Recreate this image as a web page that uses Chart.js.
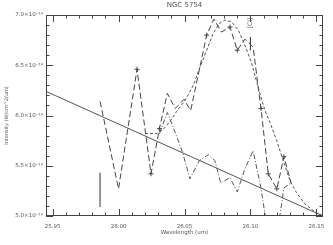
<!DOCTYPE html>
<html>
<head>
<meta charset="utf-8">
<script src="https://cdn.jsdelivr.net/npm/chart.js@4.4.1/dist/chart.umd.min.js"></script>
<style>
  html, body { margin: 0; padding: 0; background: #fff; }
  #wrap { width: 333px; height: 245px; }
</style>
</head>
<body>
<div id="wrap"><canvas id="spectrum"></canvas></div>
<script>
// wavelength in um, flux in units of 1e-19 W/cm^2/um
const title = 'NGC 5754';
const lineLabel = '[Cl]';

const dataWave = [25.986, 26.000, 26.014, 26.0246, 26.031, 26.037, 26.043, 26.0496, 26.0547, 26.0668,
                  26.0723, 26.078, 26.0845, 26.090, 26.0958, 26.102, 26.108, 26.1135, 26.120, 26.1254, 26.131];
const dataFlux = [6.14, 5.27, 6.46, 5.42, 5.87, 6.22, 6.07, 6.16, 6.05, 6.80,
                  6.96, 6.83, 6.88, 6.65, 6.76, 6.68, 6.07, 5.42, 5.27, 5.59, 5.32];

const fitWave = [26.020, 26.0289, 26.0337, 26.039, 26.044, 26.0504, 26.0567, 26.0617, 26.0668, 26.0718,
                 26.0769, 26.0807, 26.0858, 26.0908, 26.0958, 26.1009, 26.106, 26.111, 26.1148, 26.1199,
                 26.1249, 26.130, 26.135, 26.1413, 26.1489, 26.155];
const fitFlux = [5.82, 5.82, 5.86, 5.94, 6.04, 6.15, 6.30, 6.48, 6.65, 6.82,
                 6.92, 6.95, 6.93, 6.85, 6.70, 6.52, 6.27, 6.05, 5.93, 5.75,
                 5.55, 5.35, 5.23, 5.12, 5.04, 5.00];

const residWave = [26.031, 26.037, 26.043, 26.0486, 26.0541, 26.0612, 26.068, 26.0731, 26.0774, 26.0845,
                   26.090, 26.0958, 26.102, 26.108, 26.1135, 26.120, 26.1254, 26.131];
const residFlux = [5.82, 6.03, 5.83, 5.63, 5.37, 5.55, 5.61, 5.55, 5.33, 5.38,
                   5.24, 5.47, 5.65, 5.28, 4.80, 4.80, 5.28, 5.33];

const contWave = [25.945, 26.155];
const contFlux = [6.24, 5.00];

const barWave = [25.986, 25.986];
const barFlux = [5.43, 5.09];

const markWave = [26.100, 26.100];
const markFlux = [6.78, 6.65];

const xTicks = [25.95, 26.00, 26.05, 26.10, 26.15];
const yTicks = [5.0, 5.5, 6.0, 6.5, 7.0];

const pts = (xs, ys) => xs.map((x, i) => ({ x: x, y: ys[i] }));

const INK = '#444';
const LINE = '#555';
const TEXT = '#555';
const FONT = 'DejaVu Sans';
const MARKED = [2, 3, 4, 9, 12, 13, 16, 17, 18, 19];

// IDL-style box with inward ticks
const frame = {
  id: 'frame',
  afterDraw(chart) {
    const { ctx, chartArea: a, scales: { x, y } } = chart;
    ctx.save();
    ctx.strokeStyle = INK;
    ctx.lineWidth = 1;
    ctx.strokeRect(a.left + 0.5, a.top + 0.5, a.right - a.left - 1, a.bottom - a.top - 1);
    ctx.beginPath();
    for (let v = 25.95; v <= 26.155; v += 0.01) {
      const px = Math.round(x.getPixelForValue(v)) + 0.5;
      const major = Math.abs(v * 20 - Math.round(v * 20)) < 1e-6;
      const len = major ? 7 : 3.5;
      ctx.moveTo(px, a.bottom); ctx.lineTo(px, a.bottom - len);
      ctx.moveTo(px, a.top); ctx.lineTo(px, a.top + len);
    }
    for (let v = 5.0; v <= 7.0001; v += 0.1) {
      const py = Math.round(y.getPixelForValue(v)) + 0.5;
      const major = Math.abs(v * 2 - Math.round(v * 2)) < 1e-6;
      const len = major ? 7 : 3.5;
      ctx.moveTo(a.left, py); ctx.lineTo(a.left + len, py);
      ctx.moveTo(a.right, py); ctx.lineTo(a.right - len, py);
    }
    ctx.stroke();

    ctx.fillStyle = TEXT;
    ctx.font = '7px ' + FONT;
    ctx.textAlign = 'center';
    ctx.textBaseline = 'middle';
    ctx.fillText(title, (a.left + a.right) / 2, 5);

    ctx.save();
    ctx.translate(x.getPixelForValue(markWave[0]), y.getPixelForValue(6.92));
    ctx.rotate(-Math.PI / 2);
    ctx.font = '6px ' + FONT;
    ctx.fillText(lineLabel, 0, 0);
    ctx.restore();
    ctx.restore();
  }
};

new Chart(document.getElementById('spectrum'), {
  type: 'line',
  data: {
    datasets: [
      { data: pts(contWave, contFlux), borderColor: LINE, borderWidth: 1, pointRadius: 0 },
      { data: pts(fitWave, fitFlux), borderColor: LINE, borderWidth: 1, borderDash: [3, 2], pointRadius: 0 },
      { data: pts(residWave, residFlux), borderColor: LINE, borderWidth: 1, borderDash: [5, 2, 1, 2], pointRadius: 0 },
      {
        data: pts(dataWave, dataFlux), borderColor: INK, borderWidth: 1, borderDash: [6, 3],
        pointStyle: 'cross', pointBorderColor: INK, pointBorderWidth: 1,
        pointRadius: c => MARKED.includes(c.dataIndex) ? 2.5 : 0
      },
      { data: pts(barWave, barFlux), borderColor: '#888', borderWidth: 1, pointRadius: 0 },
      { data: pts(markWave, markFlux), borderColor: INK, borderWidth: 1, pointRadius: 0 }
    ]
  },
  options: {
    responsive: true,
    maintainAspectRatio: false,
    animation: false,
    layout: { padding: { top: 15, right: 10, left: 0, bottom: 0 } },
    plugins: { legend: { display: false }, tooltip: { enabled: false }, title: { display: false } },
    scales: {
      x: {
        type: 'linear', min: 25.945, max: 26.155,
        grid: { display: false, drawTicks: false }, border: { display: false },
        afterBuildTicks: s => { s.ticks = xTicks.map(v => ({ value: v })); },
        afterFit: s => { s.height = 29; },
        ticks: { color: TEXT, font: { family: FONT, size: 5.5 }, padding: 7, maxRotation: 0,
                 callback: v => v.toFixed(2) },
        title: { display: true, text: 'Wavelength (um)', color: TEXT,
                 font: { family: FONT, size: 5.5 }, padding: { top: 0, bottom: 9 } }
      },
      y: {
        type: 'linear', min: 5.0, max: 7.0,
        grid: { display: false, drawTicks: false }, border: { display: false },
        afterBuildTicks: s => { s.ticks = yTicks.map(v => ({ value: v })); },
        afterFit: s => { s.width = 46; },
        ticks: { color: TEXT, font: { family: FONT, size: 5.5 }, padding: 3,
                 callback: v => v.toFixed(1) + '×10⁻¹⁹' },
        title: { display: true, text: 'Intensity (W/cm^2/um)', color: TEXT,
                 font: { family: FONT, size: 5 }, padding: { top: 4, bottom: 2 } }
      }
    }
  },
  plugins: [frame]
});
</script>
</body>
</html>
